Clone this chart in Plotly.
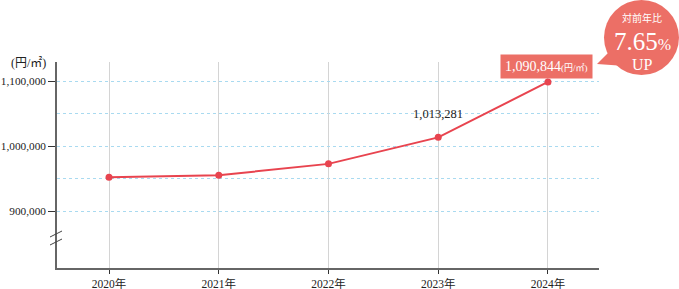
import plotly.graph_objects as go

years = ["2020年", "2021年", "2022年", "2023年", "2024年"]
# values as read from the plotted point positions
values = [952000, 955000, 972500, 1013281, 1098500]
ytick_vals = [900000, 1000000, 1100000]
ygrid_minor = [950000, 1050000]
unit_label = "(円/㎡)"
label_2023 = "1,013,281"
label_2024 = "1,090,844"
badge_title = "対前年比"
badge_value = "7.65"
badge_up = "UP"

SERIF = "Liberation Serif, Noto Sans CJK JP, serif"
RED = "#e8444f"
SALMON = "#ec6f66"

x_idx = list(range(len(years)))

fig = go.Figure()
fig.add_trace(go.Scatter(
    x=x_idx, y=values, mode="lines+markers",
    line=dict(color=RED, width=2),
    marker=dict(color=RED, size=7),
    hoverinfo="skip", showlegend=False,
))

fig.update_layout(
    width=679, height=289,
    margin=dict(l=57, r=80, t=62, b=21, autoexpand=False),
    paper_bgcolor="white", plot_bgcolor="white",
    font=dict(family=SERIF, color="#222", size=12),
    xaxis=dict(
        range=[-0.474, 4.465],
        tickvals=x_idx, ticktext=years,
        showgrid=True, gridcolor="#d4d4d4", gridwidth=1,
        showline=True, linecolor="#666", linewidth=1.5,
        ticks="outside", ticklen=4, tickcolor="#333",
        tickfont=dict(family=SERIF, size=11.5, color="#222"),
        zeroline=False, fixedrange=True, automargin=False,
    ),
    yaxis=dict(
        range=[812300, 1129231],
        tickvals=ytick_vals,
        tickformat=",d",
        showgrid=True, gridcolor="#a9daf0", griddash="dot", gridwidth=1,
        minor=dict(tickvals=ygrid_minor, showgrid=True, ticks="",
                   gridcolor="#a9daf0", griddash="dot", gridwidth=1),
        showline=True, linecolor="#666", linewidth=1.5,
        ticks="outside", ticklen=7, tickcolor="#333",
        tickfont=dict(family=SERIF, size=11.3, color="#222"),
        zeroline=False, fixedrange=True, automargin=False,
    ),
)

shapes = []
# gap in vertical gridlines at axis break
shapes.append(dict(type="rect", xref="paper", yref="y", x0=0.01, x1=1.0,
                   y0=852000, y1=861500, fillcolor="white", line=dict(width=0),
                   layer="below"))
# break marks on the y axis
for dy in (0, -8):
    shapes.append(dict(type="line", xref="paper", yref="paper",
                       xsizemode="pixel", ysizemode="pixel",
                       xanchor=0, yanchor=0,
                       x0=-7, x1=5, y0=31 + dy, y1=37 + dy,
                       line=dict(color="#444", width=1)))
# speech bubble
shapes.append(dict(type="circle", xref="paper", yref="paper",
                   xsizemode="pixel", ysizemode="pixel", xanchor=1, yanchor=1,
                   x0=5, x1=80, y0=-13, y1=62,
                   fillcolor=SALMON, line=dict(width=0)))
shapes.append(dict(type="path", xref="paper", yref="paper",
                   xsizemode="pixel", ysizemode="pixel", xanchor=1, yanchor=1,
                   path="M-2,-2 L14,14 L26,-4 Z",
                   fillcolor=SALMON, line=dict(width=0)))
fig.update_layout(shapes=shapes)

ann = []
ann.append(dict(text=unit_label, xref="paper", yref="paper",
                x=-0.053, y=1.0, xanchor="center", yanchor="middle",
                yshift=-1, showarrow=False,
                font=dict(family=SERIF, size=12, color="#222")))
ann.append(dict(text=label_2023, x=3, y=values[3], xref="x", yref="y",
                yshift=23, showarrow=False,
                font=dict(family=SERIF, size=12.5, color="#222")))
ann.append(dict(text=label_2024 + "<span style='font-size:9px'>" + unit_label + "</span>",
                x=4, y=values[4], xref="x", yref="y",
                yshift=15, xshift=-1, showarrow=False,
                bgcolor=SALMON, borderpad=4,
                font=dict(family=SERIF, size=14, color="white")))
bx = 1 + (642 - 599) / 542
ann.append(dict(text=badge_title, xref="paper", yref="paper", x=bx,
                y=1 + 45 / 206, xanchor="center", yanchor="middle",
                showarrow=False, font=dict(family="Noto Sans CJK JP", size=10, color="white")))
ann.append(dict(text=badge_value + "<span style='font-size:16px'>%</span>",
                xref="paper", yref="paper", x=bx,
                y=1 + 21 / 206, xanchor="center", yanchor="middle",
                showarrow=False, font=dict(family=SERIF, size=25, color="white")))
ann.append(dict(text=badge_up, xref="paper", yref="paper", x=bx,
                y=1 - 2 / 206, xanchor="center", yanchor="middle",
                showarrow=False, font=dict(family=SERIF, size=16, color="white")))
fig.update_layout(annotations=ann)

fig.write_html("out.html")
